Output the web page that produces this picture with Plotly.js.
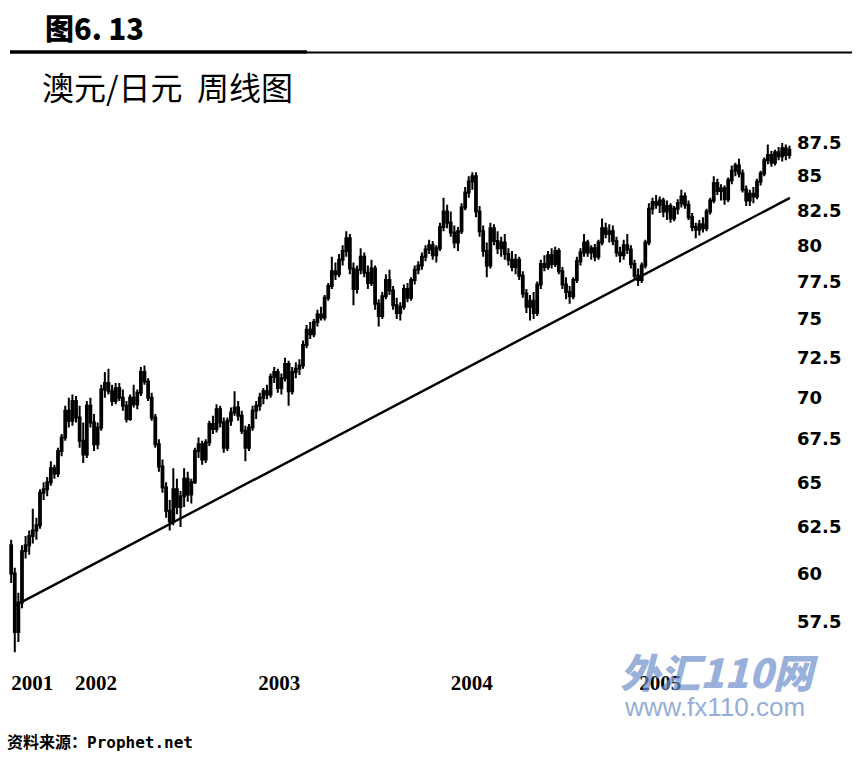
<!DOCTYPE html>
<html>
<head>
<meta charset="utf-8">
<script src="https://cdn.plot.ly/plotly-3.0.1.min.js"></script>
<style>
  html, body { margin: 0; padding: 0; background: #fff; }
  #chart { width: 865px; height: 769px; }
</style>
</head>
<body>
<div id="chart"></div>
<script>
// weekly AUD/JPY candles, first bar on this date, one bar per week
const firstWeek = '2001-07-20';

const openPrices = [
  61.5, 60.0, 57.0, 58.5, 61.2, 61.5, 62.0, 62.3, 62.6, 64.4,
  64.6, 65.0, 65.8, 65.5, 66.8, 67.6, 69.2, 68.6, 69.8, 68.8,
  67.4, 66.6, 69.5, 68.5, 67.2, 68.2, 70.5, 70.9, 70.4, 69.8,
  70.6, 70.0, 69.5, 68.7, 70.0, 69.6, 70.3, 71.6, 71.0, 70.0,
  68.8, 67.2, 65.9, 64.7, 63.4, 62.8, 64.6, 63.6, 64.2, 65.2,
  64.3, 65.0, 66.8, 67.2, 66.3, 67.3, 68.4, 68.1, 69.3, 68.5,
  67.0, 68.6, 69.1, 69.4, 68.9, 68.0, 67.0, 68.2, 69.2, 69.5,
  70.0, 70.4, 70.2, 71.3, 71.6, 70.6, 71.2, 72.1, 70.4, 71.6,
  71.8, 72.0, 73.3, 74.3, 74.0, 74.8, 75.3, 75.1, 76.4, 77.2,
  78.2, 78.0, 79.0, 79.6, 80.5, 78.4, 77.0, 78.3, 79.2, 78.1,
  77.4, 78.4, 76.0, 75.2, 76.5, 77.6, 76.9, 75.9, 75.4, 75.8,
  77.0, 76.4, 77.6, 78.3, 78.6, 79.2, 79.7, 80.0, 79.3, 79.8,
  81.3, 82.4, 81.6, 80.9, 80.2, 81.0, 82.7, 83.8, 84.6, 85.0,
  82.4, 81.0, 79.6, 78.6, 81.2, 80.3, 79.8, 80.2, 79.4, 79.0,
  78.5, 79.0, 77.9, 76.7, 75.8, 76.2, 75.4, 77.3, 78.7, 78.5,
  79.3, 78.7, 79.6, 78.2, 77.3, 76.8, 76.5, 77.6, 78.9, 79.5,
  80.2, 79.5, 79.8, 79.2, 80.2, 81.2, 80.8, 81.0, 80.3, 79.5,
  79.3, 80.0, 79.7, 78.7, 77.9, 77.6, 78.6, 80.2, 82.6, 83.1,
  82.9, 83.2, 82.4, 82.8, 81.9, 82.6, 83.0, 83.5, 82.9, 82.0,
  81.3, 81.1, 81.5, 81.2, 82.4, 83.2, 84.5, 83.9, 84.1, 83.3,
  84.7, 85.4, 85.8, 85.2, 84.0, 83.2, 83.7, 83.5, 84.6, 85.2,
  86.2, 86.6, 86.0, 86.8, 86.5, 87.1, 86.6
];

const highPrices = [
  61.8, 60.3, 59.0, 61.5, 62.0, 62.3, 63.5, 63.0, 64.6, 65.0,
  65.3, 66.2, 66.0, 67.0, 67.8, 69.5, 70.0, 70.2, 70.1, 69.5,
  68.5, 69.8, 70.0, 69.0, 68.5, 70.8, 71.6, 71.8, 70.8, 70.9,
  70.9, 70.5, 69.8, 70.2, 70.8, 70.5, 71.9, 72.0, 71.2, 70.3,
  69.0, 67.5, 66.3, 65.0, 64.0, 65.8, 65.2, 64.5, 65.8, 65.6,
  65.2, 67.0, 67.6, 67.4, 67.5, 68.6, 68.9, 69.6, 69.5, 68.8,
  68.8, 69.4, 70.4, 69.8, 69.2, 68.3, 68.4, 69.5, 69.8, 70.3,
  70.6, 70.8, 71.5, 71.9, 71.8, 71.5, 72.5, 72.3, 71.9, 72.2,
  72.4, 73.6, 74.6, 74.8, 75.0, 75.6, 75.8, 76.6, 77.4, 79.2,
  78.8, 79.4, 80.0, 81.0, 80.8, 78.8, 78.6, 79.8, 79.5, 78.6,
  79.0, 78.6, 76.3, 76.8, 78.0, 78.3, 77.2, 76.4, 76.1, 77.3,
  77.4, 77.8, 78.6, 78.9, 79.5, 80.0, 80.4, 80.3, 80.0, 81.6,
  83.4, 82.9, 82.4, 81.4, 81.3, 83.0, 84.2, 85.0, 85.3, 85.3,
  82.8, 81.4, 80.2, 81.6, 81.5, 81.0, 80.6, 80.8, 79.8, 79.6,
  79.4, 79.2, 78.2, 77.0, 76.6, 76.8, 77.5, 79.0, 79.3, 79.6,
  79.8, 79.9, 79.8, 78.5, 77.8, 77.2, 77.8, 79.2, 79.8, 80.8,
  80.4, 80.0, 80.1, 80.4, 81.9, 81.6, 81.5, 81.4, 80.6, 79.9,
  80.4, 80.8, 80.0, 79.0, 78.4, 78.8, 80.4, 83.0, 83.4, 83.6,
  83.5, 83.4, 83.2, 83.0, 82.8, 83.3, 84.0, 83.8, 83.2, 82.3,
  81.6, 81.8, 82.0, 82.6, 83.4, 85.0, 84.8, 84.4, 84.3, 84.9,
  85.8, 86.0, 86.3, 85.5, 84.3, 84.0, 84.2, 84.8, 85.4, 86.4,
  87.4, 86.9, 87.0, 87.2, 87.5, 87.4, 87.3
];

const lowPrices = [
  59.5, 56.0, 56.5, 58.2, 60.8, 61.0, 61.6, 61.8, 62.4, 64.0,
  64.2, 64.8, 65.2, 65.3, 66.5, 67.4, 68.2, 68.3, 68.5, 67.0,
  66.1, 66.4, 68.2, 66.8, 66.9, 68.0, 70.0, 70.2, 69.5, 69.6,
  69.8, 69.2, 68.5, 68.6, 69.4, 69.3, 70.1, 70.8, 69.8, 68.6,
  67.0, 65.6, 64.4, 63.0, 62.3, 62.6, 63.2, 62.5, 63.6, 63.9,
  63.8, 64.9, 66.4, 66.0, 66.1, 67.1, 67.8, 67.9, 68.2, 66.7,
  66.8, 68.3, 68.9, 68.6, 67.8, 66.2, 66.8, 68.0, 68.7, 69.2,
  69.6, 69.9, 70.0, 70.9, 70.3, 70.2, 71.0, 69.5, 70.2, 71.2,
  71.4, 71.8, 73.1, 73.7, 73.8, 74.5, 74.9, 74.9, 76.2, 77.0,
  77.6, 77.8, 78.6, 79.2, 78.0, 75.9, 76.7, 78.0, 77.8, 77.0,
  77.2, 75.6, 74.5, 75.0, 76.3, 76.6, 75.6, 75.0, 74.9, 75.6,
  76.1, 76.2, 77.3, 78.0, 78.3, 78.9, 79.4, 79.0, 78.8, 79.6,
  81.0, 81.2, 80.6, 79.8, 79.6, 80.8, 82.5, 83.4, 84.0, 82.0,
  80.6, 79.2, 77.8, 78.4, 80.0, 79.4, 79.2, 79.0, 78.6, 78.2,
  78.0, 77.6, 76.4, 75.4, 74.9, 75.0, 75.2, 77.0, 78.2, 78.3,
  78.4, 78.5, 78.0, 77.0, 76.3, 76.0, 76.3, 77.4, 78.6, 79.2,
  79.2, 79.0, 78.9, 79.0, 80.0, 80.5, 80.2, 80.0, 79.2, 78.8,
  79.0, 79.4, 78.4, 77.6, 77.2, 77.4, 78.4, 80.0, 82.2, 82.6,
  82.3, 82.0, 81.8, 81.6, 81.7, 82.2, 82.7, 82.6, 81.8, 81.0,
  80.5, 80.7, 80.9, 81.0, 82.2, 83.0, 83.6, 83.2, 82.9, 83.1,
  84.4, 85.0, 84.9, 83.8, 82.8, 82.8, 83.0, 83.3, 84.3, 85.0,
  85.9, 85.7, 85.8, 86.2, 86.1, 86.2, 86.3
];

const closePrices = [
  60.0, 57.0, 58.5, 61.2, 61.5, 62.0, 62.3, 62.6, 64.4, 64.6,
  65.0, 65.8, 65.5, 66.8, 67.6, 69.2, 68.6, 69.8, 68.8, 67.4,
  66.6, 69.5, 68.5, 67.2, 68.2, 70.5, 70.9, 70.4, 69.8, 70.6,
  70.0, 69.5, 68.7, 70.0, 69.6, 70.3, 71.6, 71.0, 70.0, 68.8,
  67.2, 65.9, 64.7, 63.4, 62.8, 64.6, 63.6, 64.2, 65.2, 64.3,
  65.0, 66.8, 67.2, 66.3, 67.3, 68.4, 68.1, 69.3, 68.5, 67.0,
  68.6, 69.1, 69.4, 68.9, 68.0, 67.0, 68.2, 69.2, 69.5, 70.0,
  70.4, 70.2, 71.3, 71.6, 70.6, 71.2, 72.1, 70.4, 71.6, 71.8,
  72.0, 73.3, 74.3, 74.0, 74.8, 75.3, 75.1, 76.4, 77.2, 78.2,
  78.0, 79.0, 79.6, 80.5, 78.4, 77.0, 78.3, 79.2, 78.1, 77.4,
  78.4, 76.0, 75.2, 76.5, 77.6, 76.9, 75.9, 75.4, 75.8, 77.0,
  76.4, 77.6, 78.3, 78.6, 79.2, 79.7, 80.0, 79.3, 79.8, 81.3,
  82.4, 81.6, 80.9, 80.2, 81.0, 82.7, 83.8, 84.6, 85.0, 82.4,
  81.0, 79.6, 78.6, 81.2, 80.3, 79.8, 80.2, 79.4, 79.0, 78.5,
  79.0, 77.9, 76.7, 75.8, 76.2, 75.4, 77.3, 78.7, 78.5, 79.3,
  78.7, 79.6, 78.2, 77.3, 76.8, 76.5, 77.6, 78.9, 79.5, 80.2,
  79.5, 79.8, 79.2, 80.2, 81.2, 80.8, 81.0, 80.3, 79.5, 79.3,
  80.0, 79.7, 78.7, 77.9, 77.6, 78.6, 80.2, 82.6, 83.1, 82.9,
  83.2, 82.4, 82.8, 81.9, 82.6, 83.0, 83.5, 82.9, 82.0, 81.3,
  81.1, 81.5, 81.2, 82.4, 83.2, 84.5, 83.9, 84.1, 83.3, 84.7,
  85.4, 85.8, 85.2, 84.0, 83.2, 83.7, 83.5, 84.6, 85.2, 86.2,
  86.6, 86.0, 86.8, 86.5, 87.1, 86.6, 87.0
];

// support trend line, two end points
const trendDates = ['2001-07-28', '2005-09-10'];
const trendPrices = [58.35, 83.4];

// axis labels
const priceTicks = [57.5, 60, 62.5, 65, 67.5, 70, 72.5, 75, 77.5, 80, 82.5, 85, 87.5];
const yearTickDates = ['2001-08-30', '2002-01-01', '2002-12-23', '2004-01-01', '2005-01-01'];
const yearTickText = ['2001', '2002', '2003', '2004', '2005'];

// one date per candle, stepping a week
const weekDates = [];
let d = new Date(firstWeek + 'T00:00:00Z');
for (let i = 0; i < closePrices.length; i++) {
  weekDates.push(d.toISOString().slice(0, 10));
  d = new Date(d.getTime() + 7 * 86400000);
}

// plot box in page pixels
const W = 865, H = 769;
const M = { l: 5, r: 73, t: 125, b: 109 };
const px = x => (x - M.l) / (W - M.l - M.r);
const py = y => (H - M.b - y) / (H - M.t - M.b);

const candles = {
  type: 'candlestick',
  x: weekDates,
  open: openPrices,
  high: highPrices,
  low: lowPrices,
  close: closePrices,
  increasing: { line: { color: '#000', width: 2 }, fillcolor: '#fff' },
  decreasing: { line: { color: '#000', width: 2 }, fillcolor: '#000' },
  whiskerwidth: 0,
  hoverinfo: 'skip'
};

const trend = {
  type: 'scatter',
  mode: 'lines',
  x: trendDates,
  y: trendPrices,
  line: { color: '#000', width: 2.4 },
  hoverinfo: 'skip'
};

const layout = {
  width: W,
  height: H,
  margin: M,
  paper_bgcolor: '#fff',
  plot_bgcolor: '#fff',
  showlegend: false,
  hovermode: false,
  xaxis: {
    type: 'date',
    range: ['2001-07-08', '2005-09-14'],
    rangeslider: { visible: false },
    showgrid: false,
    zeroline: false,
    showline: false,
    ticks: '',
    tickmode: 'array',
    tickvals: yearTickDates,
    ticktext: yearTickText,
    ticklabelstandoff: 8,
    tickfont: { family: 'Liberation Serif, Times New Roman, serif', size: 21, color: '#000', weight: 'bold' }
  },
  yaxis: {
    type: 'log',
    side: 'right',
    range: [Math.log10(55.62), Math.log10(88.9)],
    showgrid: false,
    zeroline: false,
    showline: false,
    ticks: '',
    tickmode: 'array',
    tickvals: priceTicks,
    ticktext: priceTicks.map(String),
    ticklabelstandoff: 4,
    tickfont: { family: 'DejaVu Sans, Arial, sans-serif', size: 18, color: '#000', weight: 'bold' }
  },
  shapes: [
    { type: 'line', xref: 'paper', yref: 'paper', x0: px(10), x1: px(307), y0: py(52), y1: py(52),
      line: { color: '#000', width: 3.5 } },
    { type: 'line', xref: 'paper', yref: 'paper', x0: px(307), x1: px(852), y0: py(52.5), y1: py(52.5),
      line: { color: '#000', width: 1.8 } }
  ],
  annotations: [
    { xref: 'paper', yref: 'paper', x: px(43), y: py(27), xanchor: 'left', yanchor: 'middle', showarrow: false,
      text: '图6. 13', font: { family: 'Noto Sans CJK SC, sans-serif', size: 29, color: '#000', weight: 900 } },
    { xref: 'paper', yref: 'paper', x: px(40), y: py(86), xanchor: 'left', yanchor: 'middle', showarrow: false,
      text: '澳元/日元&nbsp;&nbsp;周线图', font: { family: 'Noto Sans CJK SC, sans-serif', size: 32, color: '#000' } },
    { xref: 'paper', yref: 'paper', x: px(5), y: py(742), xanchor: 'left', yanchor: 'middle', showarrow: false,
      text: '资料来源：Prophet.net', font: { family: 'DejaVu Sans Mono, Noto Sans CJK SC, monospace', size: 16, color: '#000', weight: 'bold' } },
    { xref: 'paper', yref: 'paper', x: px(618), y: py(671), xanchor: 'left', yanchor: 'middle', showarrow: false,
      text: '<i>外汇110网</i>', opacity: 0.7,
      font: { family: 'Noto Sans CJK SC, sans-serif', size: 40, color: '#6f8fcc', weight: 900 } },
    { xref: 'paper', yref: 'paper', x: px(622), y: py(707), xanchor: 'left', yanchor: 'middle', showarrow: false,
      text: 'www.fx110.com', opacity: 0.8,
      font: { family: 'Liberation Sans, Arial, sans-serif', size: 26, color: '#7b99d2' } }
  ]
};

Plotly.newPlot('chart', [candles, trend], layout, { displayModeBar: false, staticPlot: true });
</script>
</body>
</html>
